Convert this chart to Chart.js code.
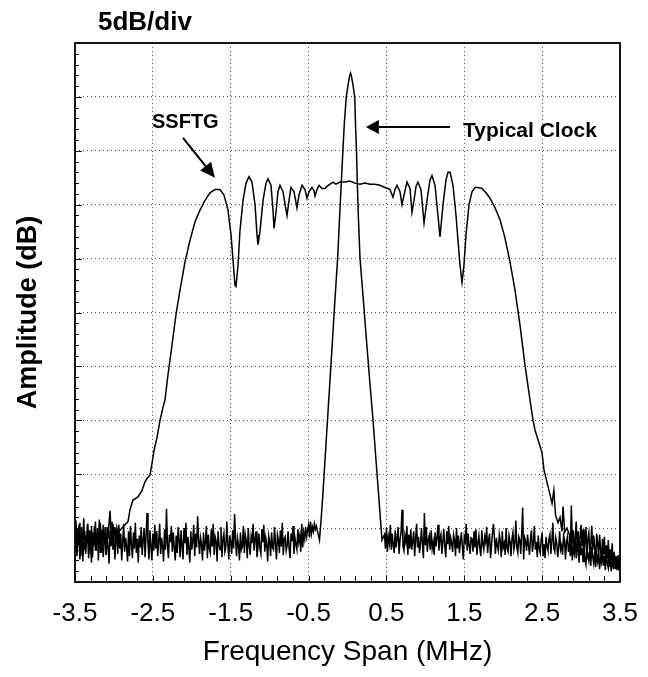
<!DOCTYPE html>
<html>
<head>
<meta charset="utf-8">
<script src="https://cdn.jsdelivr.net/npm/chart.js@4.4.1/dist/chart.umd.min.js"></script>
<style>
  html, body { margin: 0; padding: 0; background: #fff; }
  #wrap { width: 648px; height: 677px; }
</style>
</head>
<body>
<div id="wrap"><canvas id="spectrum" width="648" height="677"></canvas></div>
<script>
// axis ticks (MHz) and graticule (dB, 5dB/div)
const xTicks = [-3.5, -2.5, -1.5, -0.5, 0.5, 1.5, 2.5, 3.5];
const yGrid = [-50, -45, -40, -35, -30, -25, -20, -15, -10, -5, 0];

// analyzer bin width for the noisy parts of the sweep (MHz)
const BIN = 0.0125;

// SSFTG trace: noise floor left of the skirt, shaped part, noise floor right
const ssftgNoiseLStart = -3.5;
const ssftgNoiseL = [
  -45.9,-44.3,-47.2,-45.0,-46.6,-44.5,-47.6,-45.4,-46.2,-44.1,
  -47.0,-45.7,-46.4,-44.6,-47.4,-45.2,-46.8,-44.8,-47.7,-45.5,
  -46.1,-44.4,-47.1,-45.8,-46.5,-44.2,-47.3,-45.1,-46.9,-44.7,
  -46.3,-45.6,-47.5,-44.9,-46.0,-44.5,-43.4,-45.3,-46.7,-44.6,
  -45.8,-44.9,-46.2,-45.0,-45.5];

const ssftgFreq = [-2.922,-2.819,-2.794,-2.755,-2.691,-2.639,-2.601,-2.575,-2.537,-2.511,
  -2.485,-2.447,-2.408,-2.370,-2.344,-2.306,-2.254,-2.203,-2.151,-2.087,
  -2.023,-1.959,-1.895,-1.830,-1.766,-1.702,-1.638,-1.586,-1.535,-1.496,
  -1.471,-1.445,-1.432,-1.406,-1.381,-1.342,-1.304,-1.265,-1.227,-1.188,
  -1.162,-1.150,-1.124,-1.085,-1.047,-1.021,-0.983,-0.957,-0.944,-0.918,
  -0.893,-0.867,-0.828,-0.790,-0.777,-0.751,-0.726,-0.687,-0.649,-0.623,
  -0.584,-0.546,-0.520,-0.495,-0.456,-0.430,-0.417,-0.392,-0.366,-0.328,
  -0.289,-0.263,-0.225,-0.186,-0.148,-0.096,-0.032,0.032,0.096,0.161,
  0.225,0.289,0.353,0.417,0.482,0.520,0.546,0.584,0.610,0.636,
  0.674,0.700,0.726,0.764,0.803,0.828,0.854,0.880,0.905,0.944,
  0.983,1.021,1.060,1.085,1.124,1.162,1.188,1.227,1.265,1.291,
  1.317,1.355,1.394,1.419,1.445,1.471,1.496,1.522,1.561,1.599,
  1.638,1.676,1.727,1.779,1.830,1.895,1.959,2.023,2.087,2.151,
  2.216,2.280,2.344,2.383,2.408,2.447,2.498,2.524,2.550,2.588,
  2.627,2.650,2.672,2.704,2.730,2.755,2.768,2.790,2.819];
const ssftgAmp = [-45.2,-44.4,-43.3,-42.4,-42.1,-41.5,-40.7,-40.4,-40.1,-39.0,
  -37.8,-36.6,-35.0,-33.8,-33.1,-30.8,-28.0,-25.2,-22.9,-20.3,
  -18.3,-16.6,-15.5,-14.6,-13.9,-13.6,-13.6,-14.1,-15.5,-17.8,
  -20.1,-22.5,-22.6,-20.6,-17.4,-14.6,-13.0,-12.4,-12.9,-15.0,
  -17.8,-18.7,-17.5,-14.6,-13.0,-12.6,-13.2,-15.5,-17.2,-15.7,
  -13.8,-13.2,-13.8,-15.5,-16.0,-14.6,-13.4,-13.8,-15.3,-14.1,
  -13.2,-13.6,-14.4,-13.8,-13.4,-13.7,-14.2,-13.6,-13.2,-13.5,
  -13.5,-13.3,-13.1,-12.9,-13.1,-12.9,-12.9,-12.8,-13.0,-13.1,
  -13.0,-13.1,-13.1,-13.2,-13.4,-13.5,-13.6,-14.3,-13.6,-13.2,
  -13.8,-15.0,-14.1,-12.9,-13.5,-15.7,-14.6,-13.3,-12.9,-13.6,
  -16.7,-14.6,-12.7,-12.3,-13.2,-16.0,-18.0,-15.0,-12.7,-12.0,
  -12.0,-13.2,-16.0,-18.3,-20.6,-22.2,-20.6,-17.8,-15.0,-13.8,
  -13.4,-13.4,-13.5,-13.9,-14.4,-15.3,-16.4,-18.1,-20.3,-22.9,
  -26.2,-29.9,-33.1,-35.0,-35.9,-36.8,-38.0,-39.6,-40.4,-41.5,
  -42.7,-41.5,-43.8,-44.5,-44.0,-45.3,-43.0,-45.4,-45.0];

const ssftgNoiseRStart = 2.85;
const ssftgNoiseR = [
  -45.6,-47.1,-42.9,-46.4,-45.2,-47.5,-45.9,-44.4,-46.9,-45.3,
  -47.3,-45.8,-44.7,-46.7,-45.1,-47.6,-46.2,-44.9,-47.9,-45.9,
  -45.4,-47.2,-46.5,-44.8,-47.0,-45.7,-46.8,-48.1,-45.5,-46.3,
  -47.7,-45.6,-46.9,-48.2,-46.0,-47.4,-45.8,-48.4,-46.6,-47.8,
  -46.1,-48.6,-47.0,-48.0,-46.4,-48.8,-47.3,-48.3,-47.6,-48.9,
  -47.5,-48.5,-48.0];

// Typical clock trace: noise floor, narrow peak, noise floor
const clockNoiseLStart = -3.5;
const clockNoiseL = [
  -46.8,-45.0,-47.6,-45.9,-44.7,-47.9,-46.2,-44.9,-48.1,-46.5,
  -45.3,-47.4,-46.0,-44.6,-47.8,-45.5,-46.9,-48.2,-45.4,-46.7,
  -44.8,-47.1,-46.3,-45.0,-48.0,-46.1,-44.5,-47.3,-45.8,-47.7,
  -46.4,-44.9,-47.5,-45.6,-46.8,-48.3,-45.2,-46.6,-44.4,-47.0,
  -45.7,-47.9,-46.2,-45.1,-47.4,-44.7,-46.9,-45.5,-48.0,-46.3,
  -44.6,-47.2,-45.9,-46.7,-48.1,-45.3,-47.6,-44.8,-46.5,-47.8,
  -45.4,-46.9,-44.5,-47.3,-46.0,-48.2,-45.7,-46.8,-44.9,-47.5,
  -46.1,-45.0,-47.7,-45.8,-43.6,-46.4,-47.9,-45.2,-46.6,-48.0,
  -45.5,-47.1,-44.7,-46.9,-45.3,-47.6,-46.2,-44.6,-47.4,-45.9,
  -46.7,-48.1,-45.1,-47.0,-43.2,-46.5,-47.8,-45.6,-46.3,-44.8,
  -47.2,-45.4,-46.8,-48.0,-45.7,-47.3,-44.9,-46.1,-47.7,-45.2,
  -46.6,-47.9,-45.0,-46.4,-44.5,-47.5,-45.8,-46.9,-48.2,-45.3,
  -47.0,-46.2,-44.7,-47.6,-45.5,-46.8,-43.9,-46.0,-47.4,-45.9,
  -46.5,-48.0,-45.4,-47.1,-46.3,-44.8,-47.8,-45.6,-46.9,-47.3,
  -45.1,-46.7,-44.6,-47.5,-45.8,-46.2,-48.1,-45.3,-46.6,-47.0,
  -44.9,-47.7,-46.0,-45.5,-47.2,-46.8,-44.4,-46.4,-47.9,-45.7,
  -46.3,-47.4,-45.2,-46.9,-43.7,-46.1,-47.6,-45.9,-46.5,-48.0,
  -45.4,-47.0,-46.7,-44.8,-47.3,-45.6,-46.2,-47.8,-45.0,-46.6,
  -47.5,-45.8,-46.4,-44.6,-47.1,-46.0,-45.3,-47.7,-46.8,-45.5,
  -46.9,-47.4,-45.1,-46.3,-44.7,-47.2,-45.9,-46.5,-48.1,-45.7,
  -46.2,-47.6,-45.4,-46.8,-47.0,-44.9,-46.4,-47.9,-45.6,-46.1,
  -47.3,-45.2,-46.7,-44.5,-47.5,-46.0,-45.8,-47.1,-46.6,-45.3,
  -46.9,-47.8,-45.5,-46.2,-44.8,-47.4,-45.9,-46.5,-47.0,-45.1,
  -46.3,-45.7,-47.2,-44.6,-46.8,-45.4,-46.0,-44.9,-45.8,-45.2,
  -44.7,-45.9,-44.4,-45.5,-44.9,-45.3,-44.6,-45.1,-44.8];

const clockFreq = [-0.360,-0.340,-0.321,-0.289,-0.257,-0.225,-0.193,-0.161,-0.127,-0.103,
  -0.080,-0.060,-0.042,-0.017,0.006,0.026,0.039,0.051,0.071,0.094,
  0.103,0.116,0.126,0.141,0.161,0.203,0.244,0.285,0.328,0.366,
  0.405,0.424,0.443];
const clockAmp = [-46.1,-44.3,-42.4,-38.7,-35.0,-31.3,-27.6,-23.8,-20.0,-16.4,
  -13.0,-10.1,-7.6,-5.1,-3.9,-3.1,-2.8,-3.1,-3.9,-5.1,
  -7.6,-10.1,-13.0,-16.4,-20.0,-23.8,-27.6,-31.3,-35.0,-38.7,
  -42.4,-44.3,-46.1];

const clockNoiseRStart = 0.475;
const clockNoiseR = [
  -45.6,-46.9,-45.0,-47.2,-45.8,-46.4,-44.7,-47.0,-45.5,-46.6,
  -47.3,-45.2,-46.8,-45.9,-44.9,-47.4,-46.1,-45.4,-43.3,-46.7,
  -47.1,-45.7,-46.3,-44.8,-47.5,-45.6,-46.9,-45.1,-47.0,-46.2,
  -45.3,-47.6,-46.0,-44.6,-46.8,-45.8,-47.3,-46.4,-45.0,-46.5,
  -47.8,-43.6,-46.6,-44.9,-47.2,-46.1,-45.7,-47.0,-45.2,-46.9,
  -46.3,-47.5,-45.4,-46.7,-45.9,-44.7,-47.1,-46.0,-45.6,-47.4,
  -46.2,-45.1,-46.8,-47.7,-45.3,-46.5,-44.8,-47.0,-45.9,-46.4,
  -47.2,-45.6,-46.1,-47.6,-45.0,-46.9,-45.7,-47.3,-46.3,-45.4,
  -46.7,-47.9,-45.8,-46.2,-44.6,-47.1,-45.5,-46.6,-47.4,-45.9,
  -46.0,-47.2,-45.3,-46.8,-45.1,-47.5,-46.4,-45.7,-46.9,-47.6,
  -45.2,-46.5,-47.0,-45.8,-46.3,-44.9,-47.3,-46.1,-45.5,-47.8,
  -46.6,-45.4,-44.6,-46.0,-47.4,-45.9,-46.7,-47.1,-45.6,-46.2,
  -47.7,-45.3,-46.8,-46.4,-47.5,-45.0,-46.9,-47.2,-45.7,-46.3,
  -47.6,-46.0,-45.4,-47.0,-46.5,-44.3,-46.8,-47.3,-45.8,-46.1,
  -47.4,-45.5,-43.1,-47.9,-45.9,-46.2,-47.1,-45.6,-46.6,-47.5,
  -46.0,-45.2,-47.2,-46.4,-44.8,-47.0,-46.3,-47.7,-45.7,-46.9,
  -47.3,-46.1,-45.4,-47.6,-46.5,-47.8,-45.8,-46.7,-47.1,-46.0,
  -45.6,-47.4,-46.2,-44.5,-46.9,-47.2,-45.9,-46.4,-47.7,-46.8,
  -45.3,-47.0,-46.6,-47.5,-45.7,-46.1,-47.9,-46.3,-45.8,-47.2,
  -46.5,-47.6,-46.0,-48.0,-46.7,-47.3,-45.9,-47.8,-46.4,-47.1,
  -48.2,-46.2,-47.5,-46.8,-48.1,-46.6,-47.9,-48.4,-46.9,-47.4,
  -48.0,-47.0,-48.5,-46.7,-47.7,-48.3,-47.2,-48.6,-47.5,-48.1,
  -47.3,-48.8,-47.8,-48.2,-46.9,-48.5,-47.6,-48.9,-47.1,-48.3,
  -48.7,-47.4,-48.0,-49.0,-47.9,-48.4,-47.2,-48.8,-47.7,-48.5,
  -48.1,-48.9,-47.8];

// label anchors, in MHz / dB
const ssftgLabel = { text: 'SSFTG', x: -2.511, y: -7.9 };
const ssftgArrow = { fromX: -2.113, fromY: -8.8, toX: -1.702, toY: -12.5 };
const clockLabel = { text: 'Typical Clock', x: 1.484, y: -8.7 };
const clockArrow = { fromX: 1.317, fromY: -7.8, toX: 0.236, toY: -7.8 };

const FONT = '"Liberation Sans", Arial, Helvetica, sans-serif';

function sweep(start, amps) {
    return amps.map((a, i) => ({ x: +(start + i * BIN).toFixed(4), y: a }));
}
function trace(freqs, amps) {
    return freqs.map((f, i) => ({ x: f, y: amps[i] }));
}

const ssftgPoints = [...sweep(ssftgNoiseLStart, ssftgNoiseL), ...trace(ssftgFreq, ssftgAmp), ...sweep(ssftgNoiseRStart, ssftgNoiseR)];
const clockPoints = [...sweep(clockNoiseLStart, clockNoiseL), ...trace(clockFreq, clockAmp), ...sweep(clockNoiseRStart, clockNoiseR)];

function arrowHead(ctx, x0, y0, x1, y1, len, half) {
    const ang = Math.atan2(y1 - y0, x1 - x0);
    const bx = x1 - len * Math.cos(ang), by = y1 - len * Math.sin(ang);
    ctx.beginPath();
    ctx.moveTo(x0, y0);
    ctx.lineTo(bx, by);
    ctx.stroke();
    ctx.beginPath();
    ctx.moveTo(x1, y1);
    ctx.lineTo(bx + half * Math.sin(ang), by - half * Math.cos(ang));
    ctx.lineTo(bx - half * Math.sin(ang), by + half * Math.cos(ang));
    ctx.closePath();
    ctx.fill();
}

const frameAndNotes = {
    id: 'frameAndNotes',
    afterDatasetsDraw(chart) {
        const { ctx, chartArea: a, scales: { x, y } } = chart;
        ctx.save();

        // minor ticks: 0.2 MHz along the bottom, 1 dB along the left
        ctx.strokeStyle = '#111';
        ctx.lineWidth = 1;
        ctx.beginPath();
        for (let v = -3.5; v <= 3.5001; v += 0.2) {
            const px = Math.round(x.getPixelForValue(v)) + 0.5;
            ctx.moveTo(px, a.bottom);
            ctx.lineTo(px, a.bottom - 6);
        }
        for (let v = -50; v <= 0; v += 1) {
            const py = Math.round(y.getPixelForValue(v)) + 0.5;
            ctx.moveTo(a.left, py);
            ctx.lineTo(a.left + (v % 5 === 0 ? 7 : 4), py);
        }
        ctx.stroke();

        // graticule frame
        ctx.lineWidth = 1.8;
        ctx.strokeStyle = '#000';
        ctx.strokeRect(a.left, a.top, a.right - a.left, a.bottom - a.top);

        // annotations
        ctx.fillStyle = '#000';
        ctx.strokeStyle = '#000';
        ctx.lineWidth = 2;
        arrowHead(ctx, x.getPixelForValue(ssftgArrow.fromX), y.getPixelForValue(ssftgArrow.fromY),
            x.getPixelForValue(ssftgArrow.toX), y.getPixelForValue(ssftgArrow.toY), 15, 7);
        arrowHead(ctx, x.getPixelForValue(clockArrow.fromX), y.getPixelForValue(clockArrow.fromY),
            x.getPixelForValue(clockArrow.toX), y.getPixelForValue(clockArrow.toY), 13, 7);

        ctx.textBaseline = 'alphabetic';
        ctx.textAlign = 'left';
        ctx.font = 'bold 20px ' + FONT;
        ctx.fillText(ssftgLabel.text, x.getPixelForValue(ssftgLabel.x), y.getPixelForValue(ssftgLabel.y));
        ctx.font = 'bold 21px ' + FONT;
        ctx.fillText(clockLabel.text, x.getPixelForValue(clockLabel.x), y.getPixelForValue(clockLabel.y));

        // vertical scale note above the graticule
        ctx.font = 'bold 26px ' + FONT;
        ctx.fillText('5dB/div', a.left + 23, a.top - 13);
        ctx.restore();
    }
};

const ctx = document.getElementById('spectrum').getContext('2d');
new Chart(ctx, {
    type: 'line',
    data: {
        datasets: [{
            label: 'SSFTG',
            data: ssftgPoints,
            borderColor: '#000',
            borderWidth: 1.5,
            pointRadius: 0,
            tension: 0,
            fill: false
        }, {
            label: 'Typical Clock',
            data: clockPoints,
            borderColor: '#000',
            borderWidth: 1.5,
            pointRadius: 0,
            tension: 0,
            fill: false
        }]
    },
    options: {
        responsive: false,
        animation: false,
        devicePixelRatio: 1,
        layout: { padding: { top: 43, right: 28, left: 0, bottom: 0 } },
        plugins: {
            legend: { display: false },
            tooltip: { enabled: false }
        },
        scales: {
            x: {
                type: 'linear',
                min: -3.5,
                max: 3.5,
                afterBuildTicks: s => { s.ticks = xTicks.map(v => ({ value: v })); },
                // fixed band under the graticule; end labels may hang past the frame
                afterFit: s => { s.height = 95; s.paddingLeft = 0; s.paddingRight = 0; },
                grid: { color: '#555', lineWidth: 1, drawTicks: false },
                border: { display: false, dash: [1, 3] },
                ticks: {
                    autoSkip: false,
                    maxRotation: 0,
                    padding: 16,
                    color: '#000',
                    font: { family: FONT, size: 26 },
                    callback: v => v.toFixed(1)
                },
                title: {
                    display: true,
                    text: 'Frequency Span (MHz)',
                    color: '#000',
                    font: { family: FONT, size: 28 },
                    padding: { top: 0, bottom: 8 }
                }
            },
            y: {
                type: 'linear',
                min: -50,
                max: 0,
                afterBuildTicks: s => { s.ticks = yGrid.map(v => ({ value: v })); },
                afterFit: s => { s.width = 75; },
                grid: { color: '#555', lineWidth: 1, drawTicks: false },
                border: { display: false, dash: [1, 3] },
                ticks: { display: false },
                title: {
                    display: true,
                    text: 'Amplitude (dB)',
                    color: '#000',
                    font: { family: FONT, size: 27, weight: 'bold' },
                    padding: { top: 12, bottom: 0 }
                }
            }
        }
    },
    plugins: [frameAndNotes]
});
</script>
</body>
</html>
